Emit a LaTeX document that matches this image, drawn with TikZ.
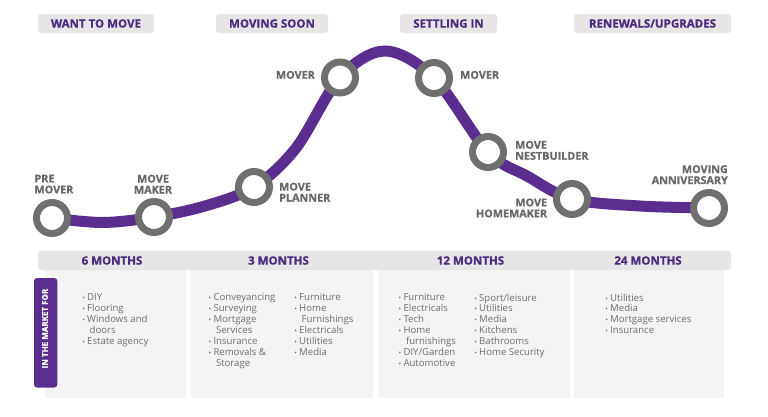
\documentclass[tikz,border=0pt]{standalone}
\usepackage{fontspec}
\setmainfont{Open Sans}[BoldFeatures={FakeBold=0.8}]
\definecolor{hdrpurple}{HTML}{4B2C7E}
\definecolor{linepurple}{HTML}{5A2E8F}
\definecolor{stgray}{HTML}{6F6F6F}
\definecolor{lblgray}{HTML}{686868}
\definecolor{txtgray}{HTML}{6E6E6E}
\definecolor{boxgray}{HTML}{E7E5E5}
\definecolor{panelgray}{HTML}{F4F4F4}
\newcommand{\bul}{\llap{{\fontsize{7}{7}\selectfont •}\hspace{2.2pt}}}
\newcommand{\cont}{\hspace*{2.5pt}}
\begin{document}
\begin{tikzpicture}[x=1pt,y=-1pt,
  phase/.style={fill=boxgray,rounded corners=3pt,inner sep=0pt,minimum height=19pt,
     text=hdrpurple,font=\bfseries\fontsize{11.5}{11.5}\selectfont},
  month/.style={inner sep=0pt,text=hdrpurple,font=\bfseries\fontsize{11.5}{11.5}\selectfont},
  station/.style={circle,draw=stgray,line width=7pt,fill=white,minimum size=31pt,inner sep=0pt},
  lbl/.style={inner sep=0pt,text=lblgray,font=\bfseries\fontsize{10.8}{11}\selectfont},
  items/.style={inner sep=0pt,text=txtgray,align=left,anchor=north west,
     font=\fontsize{9.6}{10.9}\selectfont},
  journey/.style={draw=linepurple,line width=11pt}]
\useasboundingbox (0,0) rectangle (768,416);
\fill[white] (0,0) rectangle (768,416);

% phase headers
\node[phase,minimum width=116pt] (ph1) at (96,23.5) {WANT TO MOVE};
\node[phase,minimum width=112pt] (ph2) at (272,23.5) {MOVING SOON};
\node[phase,minimum width=97pt] (ph3) at (448.5,23.5) {SETTLING IN};
\node[phase,minimum width=157pt] (ph4) at (652.5,23.5) {RENEWALS/UPGRADES};

% station centres
\coordinate (pm) at (52,218);
\coordinate (mm) at (154,217);
\coordinate (mp) at (254,187);
\coordinate (m1) at (340,77.5);
\coordinate (m2) at (434,78);
\coordinate (nb) at (488,152);
\coordinate (hm) at (572,199);
\coordinate (an) at (709,208);
\coordinate (c1) at (103,222.5);
\coordinate (c2) at (205,206);
\coordinate (c3) at (296,148);
\coordinate (c4) at (385,51);
\coordinate (c5) at (527,176);
\coordinate (c6) at (640,206);

\draw[journey] plot[smooth,tension=0.55] coordinates
  {(pm) (c1) (mm) (c2) (mp) (c3) (m1) (c4) (m2) (nb) (c5) (hm) (c6) (an)};

\node[station] (spm) at (pm) {};
\node[station] (smm) at (mm) {};
\node[station] (smp) at (mp) {};
\node[station] (sm1) at (m1) {};
\node[station] (sm2) at (m2) {};
\node[station] (snb) at (nb) {};
\node[station] (shm) at (hm) {};
\node[station] (san) at (an) {};

% station labels
\node[lbl,anchor=north west,align=left] (lpm) at (34.3,174.5) {PRE\\MOVER};
\node[lbl,anchor=north,align=center] (lmm) at (153,174.5) {MOVE\\MAKER};
\node[lbl,anchor=north west,align=left] (lmp) at (279,182.5) {MOVE\\PLANNER};
\node[lbl,anchor=north east] (lm1) at (315,70.7) {MOVER};
\node[lbl,anchor=north west] (lm2) at (460,70.7) {MOVER};
\node[lbl,anchor=north west,align=left] (lnb) at (515,140.7) {MOVE\\NESTBUILDER};
\node[lbl,anchor=north east,align=right] (lhm) at (547.3,198.3) {MOVE\\HOMEMAKER};
\node[lbl,anchor=north east,align=right] (lan) at (728,165) {MOVING\\ANNIVERSARY};

% table panels
\fill[panelgray] (45,262) rectangle (186,397.5);
\fill[panelgray] (191,262) rectangle (373,397.5);
\fill[panelgray] (378,262) rectangle (570,397.5);
\fill[panelgray] (574,262) rectangle (724,397.5);

% months bar
\fill[boxgray,rounded corners=3pt] (38,250.7) rectangle (731,270);
\node[month] (t1) at (112,260.5) {6 MONTHS};
\node[month] (t2) at (278.5,260.5) {3 MONTHS};
\node[month] (t3) at (470.5,260.5) {12 MONTHS};
\node[month] (t4) at (648,260.5) {24 MONTHS};

% vertical label
\fill[linepurple,rounded corners=3pt] (34,278) rectangle (57.3,387.5);
\node[rotate=90,inner sep=0pt,text=white,font=\bfseries\fontsize{8}{8}\selectfont] (mkt) at (45,328.5)
  {IN THE MARKET FOR};

% item lists
\node[items] (l1) at (87,293.5) {\bul DIY\\\bul Flooring\\\bul Windows and\\\cont doors\\\bul Estate agency};
\node[items] (l2a) at (213.3,293.5) {\bul Conveyancing\\\bul Surveying\\\bul Mortgage\\\cont Services\\\bul Insurance\\\bul Removals \&\\\cont Storage};
\node[items] (l2b) at (299,293.5) {\bul Furniture\\\bul Home\\\cont Furnishings\\\bul Electricals\\\bul Utilities\\\bul Media};
\node[items] (l3a) at (403.3,293.5) {\bul Furniture\\\bul Electricals\\\bul Tech\\\bul Home\\\cont furnishings\\\bul DIY/Garden\\\bul Automotive};
\node[items] (l3b) at (479,293.5) {\bul Sport/leisure\\\bul Utilities\\\bul Media\\\bul Kitchens\\\bul Bathrooms\\\bul Home Security};
\node[items] (l4) at (610,293.5) {\bul Utilities\\\bul Media\\\bul Mortgage services\\\bul Insurance};
\end{tikzpicture}
\end{document}
